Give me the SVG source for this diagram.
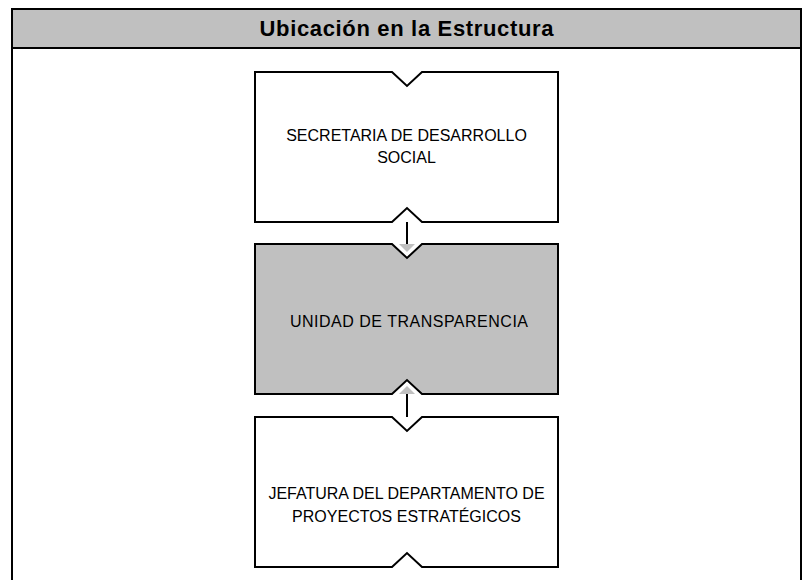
<svg xmlns="http://www.w3.org/2000/svg" width="806" height="580" viewBox="0 0 806 580">
  <style>
    .frame { fill: #ffffff; stroke: #000000; stroke-width: 2; }
    .header { fill: #c0c0c0; stroke: #000000; stroke-width: 2; }
    .box { fill: #ffffff; stroke: #000000; stroke-width: 2; stroke-linejoin: miter; }
    .box.gray { fill: #c0c0c0; }
    .title { font-family: "Liberation Sans", Arial, sans-serif; font-size: 22px; font-weight: bold; fill: #000; text-anchor: middle; }
    .label { font-family: "Liberation Sans", Arial, sans-serif; font-size: 16px; fill: #000; text-anchor: middle; }
    .conn { stroke: #000000; stroke-width: 2; fill: none; }
    .head { fill: #c0c0c0; stroke: none; }
  </style>
  <rect width="806" height="580" fill="#ffffff"/>
  <g id="frame">
    <rect class="frame" x="12" y="9" width="789" height="600"/>
    <rect class="header" x="12" y="9" width="789" height="39"/>
    <text class="title" x="406.5" y="36" textLength="294" lengthAdjust="spacing">Ubicación en la Estructura</text>
  </g>
  <g id="node-secretaria">
    <path class="box" d="M255,72 H392 L407,86 L422,72 H558 V222 H422 L407,208 L392,222 H255 Z"/>
    <text class="label" x="406.5" y="141">SECRETARIA DE DESARROLLO</text>
    <text class="label" x="406.5" y="163">SOCIAL</text>
  </g>
  <g id="node-unidad">
    <path class="box gray" d="M255,244 H392 L407,258 L422,244 H558 V394 H422 L407,380 L392,394 H255 Z"/>
    <text class="label" x="409" y="327" textLength="238" lengthAdjust="spacing">UNIDAD DE TRANSPARENCIA</text>
  </g>
  <g id="node-jefatura">
    <path class="box" d="M255,417 H392 L407,431 L422,417 H558 V567 H422 L407,553 L392,567 H255 Z"/>
    <text class="label" x="406.5" y="499">JEFATURA DEL DEPARTAMENTO DE</text>
    <text class="label" x="406.5" y="522">PROYECTOS ESTRATÉGICOS</text>
  </g>
  <g id="connectors">
    <line class="conn" x1="407" y1="222" x2="407" y2="245"/>
    <polygon class="head" points="399,244 415,244 407,252"/>
    <line class="conn" x1="407" y1="417" x2="407" y2="393"/>
    <polygon class="head" points="399,394 415,394 407,386"/>
  </g>
</svg>
